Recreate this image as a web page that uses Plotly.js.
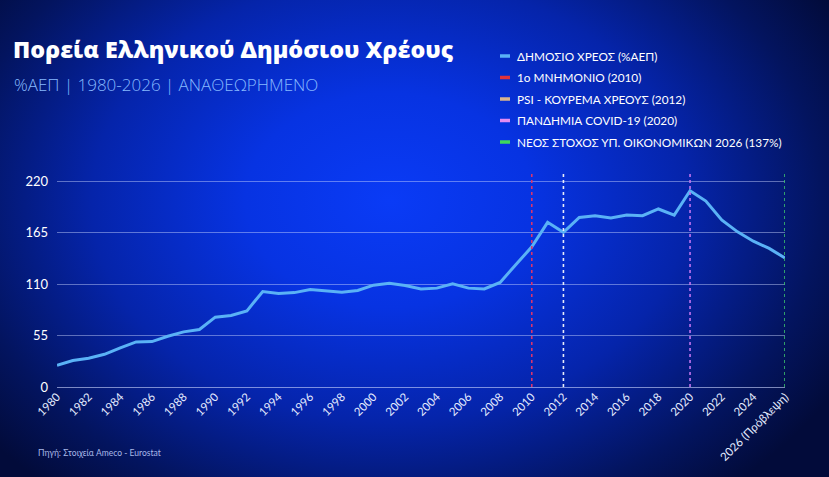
<!DOCTYPE html>
<html>
<head>
<meta charset="utf-8">
<script src="https://cdn.plot.ly/plotly-3.0.1.min.js"></script>
<style>
  html, body { margin:0; padding:0; width:829px; height:477px; overflow:hidden; }
  body {
    background: radial-gradient(ellipse 62% 80% at 47% 42%, #0a3bf6 0%, #0733e2 28%, #0524aa 58%, #03145f 84%, #020b3a 100%);
  }
  #chart { width:829px; height:477px; }
</style>
</head>
<body>
<div id="chart"></div>
<script>
// ---- DATA ----
const years = [1980,1981,1982,1983,1984,1985,1986,1987,1988,1989,
               1990,1991,1992,1993,1994,1995,1996,1997,1998,1999,
               2000,2001,2002,2003,2004,2005,2006,2007,2008,2009,
               2010,2011,2012,2013,2014,2015,2016,2017,2018,2019,
               2020,2021,2022,2023,2024,2025,2026];
const debt = [23.3,28.3,30.7,35.0,41.8,48.2,48.6,54.3,59.0,61.5,
              74.7,76.5,81.5,102.2,100.0,101.0,104.4,103.3,101.5,103.3,
              109.0,111.1,108.7,105.0,105.8,110.4,105.8,105.0,111.9,131.0,
              150.0,176.2,165.5,181.5,183.3,180.8,184.0,183.3,190.5,184.0,
              210.0,199.0,178.7,166.0,156.0,148.3,138.0];
const tickYears = [1980,1982,1984,1986,1988,1990,1992,1994,1996,1998,2000,2002,
                   2004,2006,2008,2010,2012,2014,2016,2018,2020,2022,2024,2026];
const tickLabels = ["1980","1982","1984","1986","1988","1990","1992","1994","1996","1998","2000","2002",
                    "2004","2006","2008","2010","2012","2014","2016","2018","2020","2022","2024","2026 (Πρόβλεψη)"];
const yTicks = [0,55,110,165,220];
const eventYears = [2010, 2012, 2020, 2026];
const eventLineColors = ["#d8356e", "#e8ecf8", "#c274f0", "#3cc46c"];
const legendNames = ["ΔΗΜΟΣΙΟ ΧΡΕΟΣ (%ΑΕΠ)", "1ο ΜΝΗΜΟΝΙΟ (2010)", "PSI - ΚΟΥΡΕΜΑ ΧΡΕΟΥΣ (2012)",
                     "ΠΑΝΔΗΜΙΑ COVID-19 (2020)", "ΝΕΟΣ ΣΤΟΧΟΣ ΥΠ. ΟΙΚΟΝΟΜΙΚΩΝ 2026 (137%)"];
const legendColors = ["#5ab2f6", "#e2323c", "#d9b48e", "#e38cf2", "#3fd85c"];
const titleText = "Πορεία Ελληνικού Δημόσιου Χρέους";
const subtitleText = "%ΑΕΠ | 1980-2026 | ΑΝΑΘΕΩΡΗΜΕΝΟ";
const sourceText = "Πηγή: Στοιχεία Ameco - Eurostat";

// ---- LAYOUT HELPERS ----
const W = 829, H = 477;
const M = {l:57, r:44, t:173, b:90};
const PW = W - M.l - M.r, PH = H - M.t - M.b;
const px = x => (x - M.l) / PW;
const py = y => (H - M.b - y) / PH;

const FONT = "Lato, 'Noto Sans', sans-serif";
const WIDE = "'Open Sans', 'Noto Sans', sans-serif";

const traces = [{
  x: years, y: debt, type: "scatter", mode: "lines",
  line: {color: legendColors[0], width: 3},
  hoverinfo: "skip", showlegend: false
}];

const shapes = eventYears.map((yr, i) => ({
  type: "line", xref: "x", yref: "paper", x0: yr, x1: yr, y0: 0, y1: 1,
  line: {color: eventLineColors[i], width: 1.6, dash: "dot"}
}));

const annotations = [];
const legendTop = 56, legendStep = 21.5;
legendNames.forEach((name, i) => {
  const yy = legendTop + i * legendStep;
  shapes.push({
    type: "line", xref: "paper", yref: "paper",
    x0: px(500), x1: px(510), y0: py(yy), y1: py(yy),
    line: {color: legendColors[i], width: 3.5}
  });
  annotations.push({
    xref: "paper", yref: "paper", x: px(515), y: py(yy),
    xanchor: "left", yanchor: "middle", showarrow: false,
    text: name, font: {family: FONT, size: 11.8, color: "#ffffff"}
  });
});

annotations.push({
  xref: "paper", yref: "paper", x: px(12), y: py(85),
  xanchor: "left", yanchor: "middle", showarrow: false,
  text: subtitleText, font: {family: WIDE, size: 17, color: "#86b9ff", weight: 300}
});
annotations.push({
  xref: "paper", yref: "paper", x: px(36), y: py(453),
  xanchor: "left", yanchor: "middle", showarrow: false,
  text: sourceText, font: {family: FONT, size: 8.5, color: "#a9b8e8"}
});

const layout = {
  width: W, height: H,
  margin: M,
  paper_bgcolor: "rgba(0,0,0,0)",
  plot_bgcolor: "rgba(0,0,0,0)",
  title: {
    text: titleText,
    xref: "container", yref: "container",
    x: 13 / W, xanchor: "left",
    y: 1 - 50 / H, yanchor: "middle",
    font: {family: WIDE, size: 23.3, color: "#ffffff", weight: 800}
  },
  xaxis: {
    range: [1980, 2026],
    tickvals: tickYears, ticktext: tickLabels,
    tickangle: -45,
    tickfont: {family: FONT, size: 11.5, color: "#e4ebff"},
    showgrid: false, zeroline: false, showline: false,
    ticks: "", fixedrange: true
  },
  yaxis: {
    range: [0, 229],
    tickvals: yTicks,
    tickfont: {family: FONT, size: 13, color: "#ffffff"},
    showgrid: true, gridcolor: "rgba(205,215,255,0.45)", gridwidth: 1,
    zeroline: true, zerolinecolor: "rgba(205,215,255,0.6)", zerolinewidth: 1,
    showline: false, ticks: "", ticklabelstandoff: 8, fixedrange: true
  },
  shapes: shapes,
  annotations: annotations,
  showlegend: false
};

Plotly.newPlot("chart", traces, layout, {displayModeBar: false, staticPlot: true});
</script>
</body>
</html>
